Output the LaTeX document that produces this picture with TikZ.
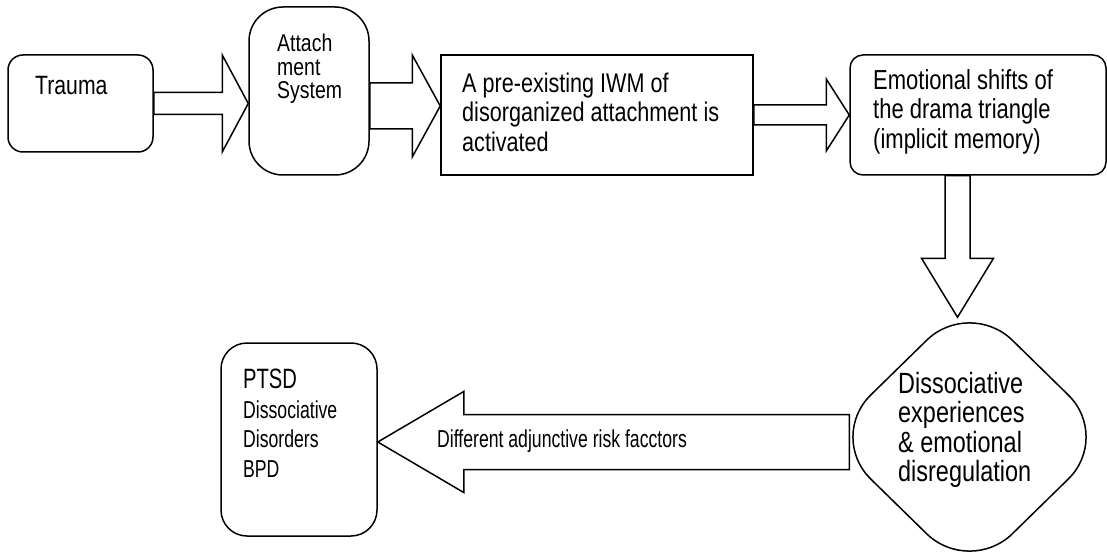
\documentclass[tikz,border=0pt]{standalone}
\usepackage{fontspec}
\setmainfont{Liberation Sans}[FakeStretch=0.8]
\newfontfamily\narrowsf{Liberation Sans}[FakeStretch=0.72]
\usetikzlibrary{calc}
\usetikzlibrary{shapes.geometric}
\tikzstyle{box}=[draw, line width=1.5pt, fill=white, inner sep=0pt]
\tikzstyle{dia}=[box, diamond, aspect=1]
\tikzstyle{txt}=[anchor=north west, inner sep=0pt, align=left]
\tikzstyle{blk}=[draw, line width=1.5pt, fill=white, line join=miter]
\newcommand{\fs}[2]{\fontsize{#1}{#2}\selectfont}
% block arrow: tail, tip, shaft half width, head half width, head length
\newcommand{\blockarr}[5]{%
  \coordinate (ba-h) at ($(#2)!#5!(#1)$);
  \draw[blk] ($(#1)!#3!90:(#2)$) -- ($(ba-h)!#3!-90:(#1)$) -- ($(ba-h)!#4!-90:(#1)$)
    -- (#2) -- ($(ba-h)!#4!90:(#1)$) -- ($(ba-h)!#3!90:(#1)$) -- ($(#1)!#3!-90:(#2)$) -- cycle;}

\begin{document}
\begin{tikzpicture}[x=1pt, y=-1pt]
	\useasboundingbox (0,0) rectangle (1107,553);
	\draw (80.5,103.5) node[box, rounded corners=15pt, minimum width=145pt, minimum height=97pt] (trauma) {};
	\draw (309,91) node[box, rounded corners=34pt, minimum width=120pt, minimum height=168pt] (attach) {};
	\draw (597,115) node[box, minimum width=312pt, minimum height=120pt] (iwm) {};
	\draw (978,115) node[box, rounded corners=13pt, minimum width=256pt, minimum height=120pt] (emo) {};
	\draw (969.5,437) node[dia, rounded corners=60pt, minimum width=284pt, minimum height=278pt] (diss) {};
	\draw (299,439.5) node[box, rounded corners=26pt, minimum width=156pt, minimum height=193pt] (ptsd) {};
	% arrow ends
	\coordinate (a2) at ($(iwm.west)+(0,-9)$);
	\coordinate (a4) at ($(emo.south)+(-20.5,0)$);
	\coordinate (a4e) at ([yshift=-20pt]a4 |- diss.north);
	\coordinate (a5) at ($(diss.west)+(22.5,5)$);
	\coordinate (a1e) at (trauma.east -| attach.west);
	\coordinate (a2s) at (attach.east |- a2);
	\coordinate (a3s) at (iwm.east |- emo.west);
	\coordinate (a5e) at (ptsd.east |- a5);
	\blockarr{trauma.east}{a1e}{11pt}{48.5pt}{26pt}
	\blockarr{a2s}{a2}{23pt}{51pt}{28pt}
	\blockarr{a3s}{emo.west}{10pt}{36pt}{23pt}
	\blockarr{a4}{a4e}{12.5pt}{36pt}{59pt}
	\blockarr{a5}{a5e}{27.5pt}{50.5pt}{86pt}
	% texts
	\draw (35,76.5) node[txt, font=\fs{26.5}{29.5}] (trauma-t) {Trauma};
	\draw (277,34) node[txt, font=\fs{24.3}{23.5}] (attach-t) {Attach\\ment\\System};
	\draw (462,72.5) node[txt, font=\fs{27}{29.5}] (iwm-t) {A pre-existing IWM of\\disorganized attachment is\\activated};
	\draw (873,69) node[txt, font=\fs{27.5}{29.5}] (emo-t) {Emotional shifts of\\the drama triangle\\(implicit memory)};
	\draw (898,372) node[txt, font=\fs{29.3}{29.5}] (diss-t) {Dissociative\\experiences\\\& emotional\\disregulation};
	\draw (243,369) node[txt, font=\narrowsf\fs{24.5}{29.5}] (ptsd-t) {{\fs{28}{29.5}PTSD}\\Dissociative\\Disorders\\BPD};
	\draw (437,429.5) node[txt, font=\narrowsf\fs{24.5}{29.5}] (risk) {Different adjunctive risk facctors};
\end{tikzpicture}
\end{document}
